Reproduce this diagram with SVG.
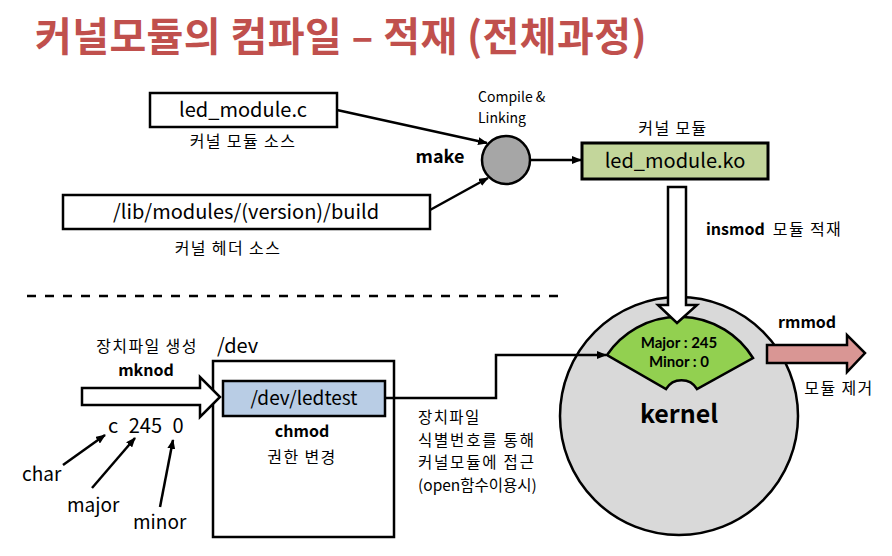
<svg xmlns="http://www.w3.org/2000/svg" width="892" height="556" viewBox="0 0 892 556">
<defs>
<style>
text{font-family:"Noto Sans CJK KR","Noto Sans",sans-serif;fill:#000}
.t{font-size:40px;font-weight:bold;fill:#C0504D;letter-spacing:0.4px}
.m{font-size:20px}
.s{font-size:16px}
.k{letter-spacing:1.4px}
.xs{font-size:14px}
.b{font-weight:bold}
.c{text-anchor:middle}
.mm{font-family:Lato,"Noto Sans",sans-serif;font-size:15px;font-weight:bold}
.box{stroke:#000;stroke-width:2.5}
.ln{fill:none;stroke:#000;stroke-width:2.5}
</style>
<marker id="ah" markerWidth="10" markerHeight="8" refX="9" refY="4" orient="auto" markerUnits="userSpaceOnUse">
<path d="M0,0 L10,4 L0,8 Z" fill="#000"/>
</marker>
</defs>
<rect width="892" height="556" fill="#fff"/>
<text class="t" x="35" y="51">커널모듈의 컴파일 – 적재 (전체과정)</text>

<g id="kernel">
<circle cx="679" cy="416" r="119" fill="#D9D9D9" stroke="#000" stroke-width="2.5"/>
<text x="679" y="423" class="c b" style="font-size:25px">kernel</text>
</g>
<g id="major-minor">
<path d="M607,355 A87,87 0 0 1 753,358 L697,389 A18,18 0 0 0 666,389 Z" fill="#92D050" stroke="#000" stroke-width="2.5" stroke-linejoin="miter"/>
<text x="679" y="348" class="c mm">Major : 245</text>
<text x="679" y="367" class="c mm">Minor : 0</text>
</g>

<g id="src">
<rect x="150" y="93" width="187" height="34" fill="#fff" class="box"/>
<text x="243" y="117" class="c m">led_module.c</text>
<text x="243" y="147" class="c s k">커널 모듈 소스</text>
</g>
<g id="hdr">
<rect x="63" y="195" width="367" height="34" fill="#fff" class="box"/>
<text x="246" y="219" class="c m">/lib/modules/(version)/build</text>
<text x="228" y="254" class="c s k">커널 헤더 소스</text>
</g>
<g id="make">
<circle cx="506" cy="160" r="24" fill="#A6A6A6" stroke="#000" stroke-width="2.5"/>
<text x="440" y="163" class="c b" style="font-size:18px">make</text>
<text x="478" y="102" class="xs">Compile &amp;</text>
<text x="478" y="123" class="xs">Linking</text>
</g>
<g id="ko">
<rect x="582" y="143" width="186" height="36" fill="#C3D69B" stroke="#000" stroke-width="3"/>
<text x="675" y="168" class="c m">led_module.ko</text>
<text x="673" y="134" class="c s k">커널 모듈</text>
</g>

<g id="insmod">
<path d="M668,187 H686 V305 H697 L677,323 L658,305 H668 Z" fill="#fff" stroke="#000" stroke-width="2.5"/>
<text x="706" y="235" class="s"><tspan class="b">insmod</tspan><tspan class="k" dx="3"> 모듈 적재</tspan></text>
</g>
<g id="rmmod">
<path d="M767,345 H847 V335 L865,353 L847,372 V363 H767 Z" fill="#D99694" stroke="#000" stroke-width="2.5"/>
<text x="778" y="328" class="s b">rmmod</text>
<text x="839" y="394" class="c s k">모듈 제거</text>
</g>

<line x1="27" y1="296" x2="562" y2="296" stroke="#000" stroke-width="2.5" stroke-dasharray="9,9"/>

<g id="dev">
<rect x="213" y="361" width="181" height="176" fill="#fff" class="box"/>
<text x="217" y="353" class="m">/dev</text>
<text x="302" y="437" class="c s b">chmod</text>
<text x="302" y="463" class="c s k">권한 변경</text>
</g>
<g id="ledtest">
<rect x="223" y="381" width="162" height="35" fill="#B9CDE5" class="box"/>
<text x="304" y="405" class="c" style="font-size:19px">/dev/ledtest</text>
</g>
<g id="mknod">
<path d="M82,388 H200 V377 L220,397 L200,417 V405 H82 Z" fill="#fff" stroke="#000" stroke-width="2.5"/>
<text x="147" y="352" class="c s k">장치파일 생성</text>
<text x="146" y="376" class="c s b">mknod</text>
<text x="108" y="433" class="m" word-spacing="6">c 245 0</text>
<text x="22" y="481" style="font-size:19px">char</text>
<text x="67" y="512" style="font-size:19px">major</text>
<text x="133" y="529" style="font-size:19px">minor</text>
</g>
<g id="note" class="s">
<text x="418" y="423" style="font-size:15.5px" class="k">장치파일</text>
<text x="418" y="445.5" style="font-size:15.5px;letter-spacing:1.8px">식별번호를 통해</text>
<text x="418" y="468" style="font-size:15.5px;letter-spacing:1.8px">커널모듈에 접근</text>
<text x="418" y="490.5" style="font-size:15.5px">(open함수이용시)</text>
</g>

<g id="connectors">
<line x1="337" y1="110" x2="487" y2="143" class="ln" marker-end="url(#ah)"/>
<line x1="430" y1="210" x2="488" y2="178" class="ln" marker-end="url(#ah)"/>
<line x1="530" y1="160" x2="581" y2="160" class="ln" marker-end="url(#ah)"/>
<polyline points="385,398 496,398 496,355 606,355" class="ln" marker-end="url(#ah)"/>
<line x1="63" y1="465" x2="105" y2="435" class="ln" marker-end="url(#ah)"/>
<line x1="92" y1="488" x2="135" y2="438" class="ln" marker-end="url(#ah)"/>
<line x1="160" y1="507" x2="173" y2="440" class="ln" marker-end="url(#ah)"/>
</g>
</svg>
